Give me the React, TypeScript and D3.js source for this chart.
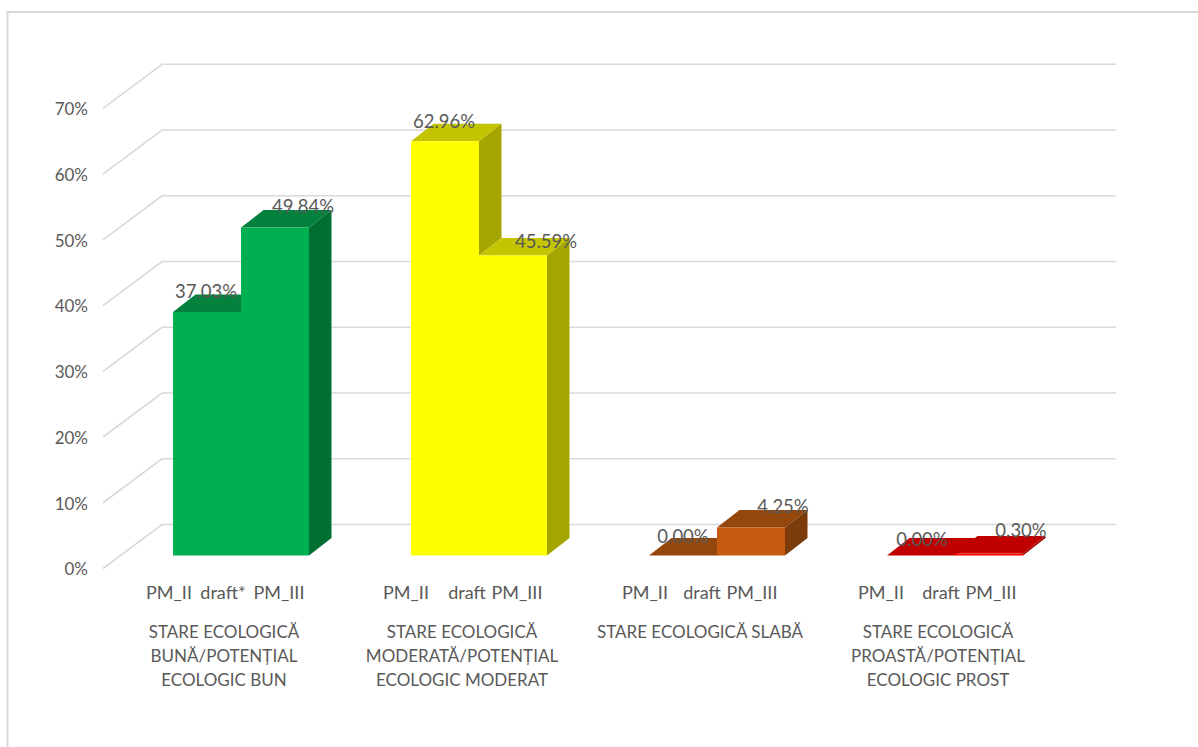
import React from "react";
import * as d3 from "d3";

const categories = [
  ["STARE ECOLOGICĂ", "BUNĂ/POTENȚIAL", "ECOLOGIC BUN"],
  ["STARE ECOLOGICĂ", "MODERATĂ/POTENȚIAL", "ECOLOGIC MODERAT"],
  ["STARE ECOLOGICĂ SLABĂ"],
  ["STARE ECOLOGICĂ", "PROASTĂ/POTENȚIAL", "ECOLOGIC PROST"],
];
const subLabels = [
  ["PM_II", "draft*", "PM_III"],
  ["PM_II", "draft", "PM_III"],
  ["PM_II", "draft", "PM_III"],
  ["PM_II", "draft", "PM_III"],
];
const pmII = [37.03, 62.96, 0, 0];
const pmIII = [49.84, 45.59, 4.25, 0.3];
const yTicks = [0, 10, 20, 30, 40, 50, 60, 70];

const frontColors = ["#00B050", "#FFFF00", "#C55A11", "#FF0000"];
const topColors = ["#04813C", "#C4C400", "#94470D", "#C00000"];
const sideColors = ["#006F32", "#A5A500", "#7B3B0A", "#A00000"];

const subOffsets = [
  [-4, 50, 106],
  [-5, 56, 106],
  [-4, 53, 103],
  [-6, 54, 104],
];
const labelDy = [
  [-20, -21],
  [-20, -14],
  [-19, -21],
  [-16, -23],
];
const labelDx = [
  [-1, 28],
  [-1, 33],
  [0, 32],
  [1, 32],
];

const FONT = "Lato, 'Open Sans', sans-serif";
const TEXT = "#595959";
const GRID = "#D9D9D9";

export default function App() {
  const groupX = d3.scaleBand<number>()
    .domain(d3.range(4))
    .range([173, 1125])
    .paddingInner(0)
    .paddingOuter(0);
  const barW = 68;
  const y = d3.scaleLinear().domain([0, 70]).range([555.5, 95]);
  const dx = 22.5;
  const dy = 17.5;
  // wall projection
  const wallY = d3.scaleLinear().domain([0, 70]).range([568.5, 108.3]);
  const backY = d3.scaleLinear().domain([0, 70]).range([524.5, 64.3]);
  const wallL = 103;
  const backL = 162;
  const backR = 1116;
  const poly = (pts: number[][]) => pts.map((p) => p.join(",")).join(" ");
  const line = d3.line();

  return (
    <svg width={1198} height={747} style={{ position: "fixed", left: 0, top: 0, display: "block" }} fontFamily={FONT}>
      <rect width={1198} height={747} fill="#fff" />
      <path d={line([[7.5, 747], [7.5, 12], [1198, 12]]) as string} fill="none" stroke={GRID} strokeWidth={2} />

      {yTicks.map((t) => (
        <g key={t}>
          <path
            d={line([[wallL, wallY(t)], [backL, backY(t)], [backR, backY(t)]]) as string}
            fill="none"
            stroke={GRID}
            strokeWidth={1.6}
          />
          <text x={88} y={wallY(t) + 1} dy="0.35em" textAnchor="end" fontSize={17} fill={TEXT}>
            {t}%
          </text>
        </g>
      ))}

      {categories.map((lines, i) => {
        const x0 = groupX(i) as number;
        const vals = [pmII[i], pmIII[i]];
        const frontPath = d3.line()([
          [x0, y(0)],
          [x0, y(vals[0])],
          [x0 + barW, y(vals[0])],
          [x0 + barW, y(vals[1])],
          [x0 + 2 * barW, y(vals[1])],
          [x0 + 2 * barW, y(0)],
        ]) as string;
        return (
          <g key={i}>
            {vals.map((v, j) => {
              const l = x0 + j * barW;
              const r = l + barW;
              const t = y(v);
              const next = j === 0 ? vals[1] : 0;
              return (
                <g key={j}>
                  <polygon points={poly([[l, t], [l + dx, t - dy], [r + dx, t - dy], [r, t]])} fill={topColors[i]} />
                  {v > next && (
                    <polygon
                      points={poly([[r, t], [r + dx, t - dy], [r + dx, y(next) - dy], [r, y(next)]])}
                      fill={sideColors[i]}
                    />
                  )}
                </g>
              );
            })}
            <path d={frontPath + "Z"} fill={frontColors[i]} />
            {subLabels[i].map((s, k) => (
              <text key={k} x={x0 + subOffsets[i][k]} y={593} dy="0.35em" textAnchor="middle" fontSize={18} fill={TEXT}>
                {s}
              </text>
            ))}
            {lines.map((s, k) => (
              <text key={k} x={x0 + 51} y={632 + k * 24} dy="0.35em" textAnchor="middle" fontSize={17} fill={TEXT}>
                {s}
              </text>
            ))}
          </g>
        );
      })}

      {categories.map((_, i) => {
        const x0 = groupX(i) as number;
        return [pmII[i], pmIII[i]].map((v, j) => (
          <text
            key={`${i}-${j}`}
            x={x0 + j * barW + barW / 2 + labelDx[i][j]}
            y={y(v) + labelDy[i][j]}
            dy="0.35em"
            textAnchor="middle"
            fontSize={18.5}
            fill={TEXT}
          >
            {d3.format(".2f")(v)}%
          </text>
        ));
      })}
    </svg>
  );
}
